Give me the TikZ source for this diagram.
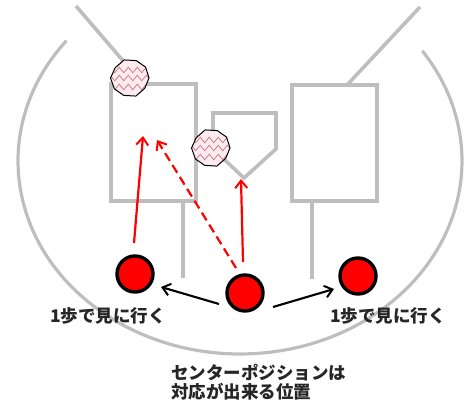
\documentclass[tikz,border=0pt]{standalone}
\usepackage{fontspec}
\newfontfamily\jp{Noto Sans CJK JP}
\usetikzlibrary{arrows.meta,decorations.pathmorphing}
\definecolor{fieldgray}{RGB}{190,190,190}
\definecolor{zig}{RGB}{210,110,130}
\definecolor{ballfill}{RGB}{252,236,240}
\tikzset{
  field/.style={draw=fieldgray, line width=3.6pt, line join=miter},
  player/.style={circle, draw=black, line width=3.4pt, fill=red, minimum size=36pt, inner sep=0pt},
  redarrow/.style={draw=red, line width=2.2pt, -{Straight Barb[length=7.5pt,width=12pt,line width=2pt]}},
  blkarrow/.style={draw=black, line width=2.1pt, -{Straight Barb[length=7.5pt,width=12pt,line width=2pt]}},
  lbl/.style={font=\jp\bfseries\fontsize{17.5}{18.5}\selectfont, inner sep=0pt, text=black!85},
}
\newcommand{\drawball}[2]{%
  \begin{scope}[shift={(#1,#2)}]
    \path[fill=ballfill] (0:19) -- (35:18) -- (72:19) -- (110:18.5) -- (145:19) -- (180:19.5) -- (215:18) -- (252:19) -- (290:18.5) -- (325:19) -- cycle;
    \begin{scope}
      \clip (0:19) -- (35:18) -- (72:19) -- (110:18.5) -- (145:19) -- (180:19.5) -- (215:18) -- (252:19) -- (290:18.5) -- (325:19) -- cycle;
      \foreach \yy in {-8,0,9} {
        \draw[zig, line width=0.7pt, decorate, decoration={zigzag, segment length=9pt, amplitude=2.8pt}] (-22,\yy) -- (22,\yy);
      }
    \end{scope}
    \draw[black, line width=1pt] (0:19) -- (35:18) -- (72:19) -- (110:18.5) -- (145:19) -- (180:19.5) -- (215:18) -- (252:19) -- (290:18.5) -- (325:19) -- cycle;
  \end{scope}}
\begin{document}
\begin{tikzpicture}[x=1pt,y=-1pt]
\useasboundingbox (0,0) rectangle (467,401);
% outfield arc
\draw[field, line width=3.2pt] (240,161) ++(218.6:222 and 193) arc[start angle=218.6, end angle=-34.8, x radius=222, y radius=193];
% foul lines
\draw[field] (76,6) -- (143,84);
\draw[field] (420,7) -- (347,85);
% boxes
\draw[field] (111,84) rectangle (196,201);
\draw[field] (292,85) rectangle (377,201);
\draw[field] (183,201) -- (183,278);
\draw[field] (312,201) -- (312,279);
% home plate
\draw[field] (213,113) -- (276,113) -- (276,149) -- (244,178) -- (213,149) -- cycle;
% red arrows
\coordinate (r1s) at (134,243); \coordinate (r1e) at (143,136);
\coordinate (r2s) at (236,268); \coordinate (r2e) at (157,140);
\coordinate (r3s) at (243,262); \coordinate (r3e) at (241,179);
\draw[redarrow] (r1s) -- (r1e);
\draw[redarrow, dash pattern=on 9pt off 5pt] (r2s) -- (r2e);
\draw[redarrow] (r3s) -- (r3e);
% balls
\drawball{130}{78}
\drawball{211}{148}
% players
\node[player] (pL) at (135,274) {};
\node[player] (pC) at (245,293) {};
\node[player] (pR) at (358,276) {};
% black arrows
\coordinate (bLs) at (219,304); \coordinate (bLe) at (161,287);
\coordinate (bRs) at (273,307); \coordinate (bRe) at (334,289);
\draw[blkarrow] (bLs) -- (bLe);
\draw[blkarrow] (bRs) -- (bRe);
% labels
\node[lbl] (tL) at (108,316) {1歩で見に行く};
\node[lbl] (tR) at (388,316) {1歩で見に行く};
\node[lbl, align=left, anchor=west] (tB) at (171,382) {センターポジションは\\対応が出来る位置};
\end{tikzpicture}
\end{document}
